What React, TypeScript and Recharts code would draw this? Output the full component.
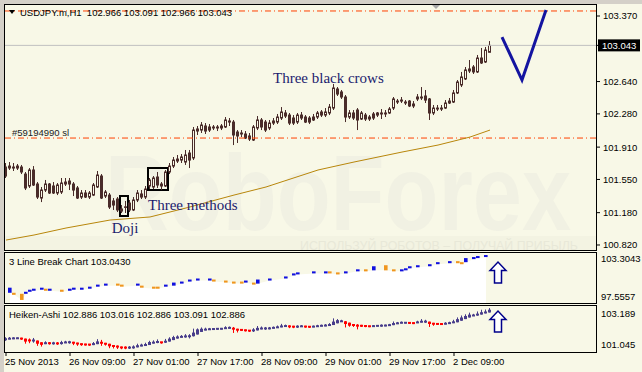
import React from 'react';
import {
  ComposedChart, Bar, Line, Area, XAxis, YAxis,
  ReferenceLine, ReferenceArea, ReferenceDot,
} from 'recharts';

const BG = '#F8F8E7';
const CANDLE = '#4A2C2A';
const LB_UP = '#1010E0';
const LB_DOWN = '#F0961E';
const HA_UP = '#483D8B';
const HA_DOWN = '#FF0000';
const UI_FONT = "'Liberation Sans', Arial, sans-serif";
const SERIF = "'Liberation Serif', 'Times New Roman', serif";
const SLOTS = 148;

// ---------- main candles (USDJPY.m, H1) ----------
const open = [
  101.688,101.677,101.688,101.699,101.688,101.610,101.477,101.655,101.499,101.343,
  101.432,101.499,101.477,101.399,101.410,101.499,101.532,101.499,101.455,101.354,
  101.399,101.354,101.376,101.466,101.588,101.365,101.376,101.310,101.332,101.221,
  101.243,101.287,101.210,101.321,101.388,101.354,101.477,101.466,101.577,101.499,
  101.477,101.633,101.699,101.755,101.766,101.744,101.844,101.789,102.089,102.100,
  102.145,102.134,102.123,102.134,102.123,102.134,102.201,102.189,102.078,102.056,
  102.056,102.034,101.989,102.123,102.212,102.189,102.123,102.178,102.189,102.234,
  102.290,102.267,102.234,102.189,102.267,102.245,102.234,102.245,102.245,102.301,
  102.267,102.290,102.345,102.557,102.524,102.468,102.245,102.290,102.323,102.223,
  102.267,102.245,102.279,102.290,102.279,102.279,102.290,102.345,102.423,102.434,
  102.412,102.423,102.390,102.446,102.457,102.479,102.446,102.290,102.334,102.345,
  102.345,102.401,102.412,102.513,102.602,102.669,102.758,102.802,102.747,102.902,
  102.858,102.966,
];
const high = [
  101.733,101.744,101.733,101.722,101.711,101.633,101.677,101.699,101.521,101.466,
  101.544,101.510,101.521,101.510,101.566,101.566,101.566,101.521,101.477,101.432,
  101.432,101.421,101.510,101.644,101.610,101.432,101.399,101.343,101.354,101.265,
  101.310,101.321,101.354,101.432,101.432,101.477,101.566,101.588,101.633,101.521,
  101.655,101.733,101.800,101.822,101.833,101.878,101.878,102.134,102.145,102.189,
  102.178,102.167,102.156,102.156,102.167,102.245,102.234,102.212,102.100,102.100,
  102.089,102.067,102.156,102.256,102.234,102.212,102.212,102.234,102.279,102.356,
  102.323,102.290,102.267,102.290,102.301,102.267,102.256,102.279,102.312,102.323,
  102.345,102.390,102.613,102.579,102.546,102.490,102.323,102.323,102.345,102.312,
  102.290,102.267,102.301,102.301,102.334,102.323,102.356,102.468,102.446,102.468,
  102.434,102.434,102.423,102.501,102.579,102.546,102.457,102.379,102.379,102.379,
  102.434,102.457,102.546,102.657,102.747,102.802,102.880,102.824,102.936,103.014,
  103.025,103.091,
];
const low = [
  101.566,101.655,101.644,101.655,101.610,101.432,101.455,101.477,101.332,101.298,
  101.410,101.388,101.388,101.376,101.388,101.477,101.432,101.365,101.332,101.332,
  101.343,101.332,101.365,101.455,101.332,101.343,101.221,101.210,101.187,101.176,
  101.176,101.187,101.198,101.298,101.332,101.332,101.443,101.443,101.455,101.432,
  101.466,101.610,101.677,101.733,101.733,101.711,101.677,101.766,102.045,102.067,
  102.056,102.078,102.100,102.089,102.100,102.123,102.145,101.933,101.956,102.022,
  102.000,101.978,101.978,102.100,102.100,102.078,102.100,102.156,102.167,102.212,
  102.234,102.156,102.156,102.167,102.212,102.178,102.167,102.201,102.223,102.245,
  102.245,102.267,102.323,102.479,102.446,102.189,102.223,102.212,102.100,102.212,
  102.201,102.201,102.212,102.245,102.223,102.245,102.279,102.323,102.390,102.401,
  102.379,102.356,102.345,102.423,102.434,102.401,102.212,102.267,102.312,102.312,
  102.334,102.390,102.401,102.501,102.579,102.657,102.735,102.724,102.735,102.836,
  102.847,102.966,
];
const close = [
  101.588,101.699,101.677,101.677,101.633,101.455,101.655,101.488,101.354,101.432,
  101.499,101.399,101.399,101.488,101.510,101.521,101.499,101.432,101.343,101.399,
  101.354,101.399,101.488,101.599,101.343,101.410,101.243,101.265,101.210,101.198,
  101.245,101.210,101.321,101.399,101.354,101.443,101.544,101.566,101.488,101.477,
  101.633,101.699,101.766,101.777,101.800,101.822,101.766,102.100,102.112,102.156,
  102.089,102.100,102.134,102.123,102.145,102.212,102.189,102.045,102.034,102.067,
  102.011,102.000,102.134,102.212,102.134,102.100,102.178,102.201,102.245,102.301,
  102.256,102.178,102.178,102.267,102.234,102.189,102.189,102.212,102.290,102.267,
  102.301,102.356,102.568,102.501,102.468,102.245,102.290,102.234,102.212,102.290,
  102.223,102.223,102.234,102.267,102.290,102.290,102.334,102.446,102.412,102.423,
  102.401,102.368,102.368,102.468,102.468,102.434,102.290,102.345,102.345,102.334,
  102.401,102.423,102.513,102.635,102.691,102.769,102.780,102.747,102.902,102.847,
  102.991,103.043,
];

// moving average (sparse read points)
const maIdx = [0, 7, 15, 26, 36, 45, 57, 65, 78, 87, 99, 108, 116, 121];
const maVal = [100.875,100.931,101.009,101.098,101.132,101.232,101.376,101.466,101.655,101.744,101.855,101.933,102.022,102.100];

// hand-drawn forecast "V"
const vIdx = [124, 129, 135];
const vVal = [103.136, 102.657, 103.437];

// levels
const currentPrice = 103.043;
const tpLevel = 103.426;
const slLevel = 102.011;
const priceTicks = [103.370, 103.043, 102.640, 102.280, 101.910, 101.550, 101.180, 100.820];

// ---------- Heiken-Ashi ----------
const haOpen = [
  101.64,101.64,101.67,101.68,101.68,101.67,101.60,101.58,101.58,101.50,
  101.44,101.46,101.45,101.45,101.45,101.46,101.49,101.50,101.48,101.44,
  101.41,101.40,101.39,101.41,101.48,101.47,101.43,101.37,101.325,101.30,
  101.26,101.25,101.25,101.26,101.31,101.34,101.37,101.44,101.48,101.51,
  101.49,101.53,101.60,101.67,101.72,101.75,101.77,101.78,101.86,101.98,
  102.055,102.09,102.10,102.12,102.12,102.13,102.15,102.17,102.13,102.09,
  102.075,102.06,102.04,102.05,102.11,102.14,102.14,102.15,102.17,102.195,
  102.235,102.255,102.24,102.224,102.23,102.24,102.23,102.22,102.227,102.247,
  102.265,102.277,102.302,102.382,102.456,102.476,102.412,102.341,102.303,102.274,
  102.266,102.256,102.245,102.251,102.263,102.272,102.278,102.296,102.346,102.382,
  102.407,102.407,102.401,102.391,102.425,102.454,102.460,102.405,102.363,102.353,
  102.348,102.363,102.390,102.429,102.502,102.578,102.652,102.720,102.746,102.789,
  102.844,102.886,
];
const haClose = [
  101.64,101.69,101.69,101.69,101.66,101.53,101.57,101.58,101.43,101.38,
  101.47,101.45,101.45,101.44,101.47,101.52,101.51,101.455,101.40,101.38,
  101.38,101.38,101.435,101.54,101.47,101.39,101.31,101.28,101.27,101.215,
  101.24,101.25,101.27,101.36,101.38,101.40,101.51,101.52,101.54,101.48,
  101.56,101.67,101.74,101.77,101.78,101.79,101.79,101.95,102.10,102.13,
  102.12,102.12,102.13,102.13,102.134,102.18,102.19,102.095,102.04,102.06,
  102.04,102.02,102.065,102.17,102.17,102.145,102.15,102.19,102.22,102.275,
  102.275,102.223,102.21,102.23,102.254,102.22,102.212,102.234,102.267,102.284,
  102.29,102.326,102.462,102.529,102.496,102.348,102.270,102.265,102.245,102.259,
  102.245,102.234,102.256,102.276,102.281,102.284,102.315,102.395,102.418,102.432,
  102.407,102.395,102.381,102.459,102.485,102.465,102.351,102.320,102.343,102.343,
  102.379,102.418,102.468,102.576,102.654,102.724,102.788,102.774,102.830,102.899,
  102.930,103.016,
];

// ---------- 3 Line Break ----------
const lbIdx = [
  1,2,4,5,6,7,9,10,11,14,
  16,17,19,21,23,25,28,29,33,34,
  37,38,40,42,44,46,48,51,52,55,
  57,59,60,62,63,66,70,72,73,77,
  80,81,83,85,88,90,92,95,97,99,
  100,101,103,106,108,111,113,114,115,117,
  118,120,
];
const lbHigh = [
  99.352,98.754,98.634,98.873,99.113,99.232,99.352,99.232,99.232,99.113,
  99.232,99.352,99.352,99.472,99.711,99.831,99.831,99.711,99.831,99.592,
  99.472,99.472,99.711,99.951,100.071,100.310,100.430,100.430,100.310,100.190,
  100.071,100.071,100.190,99.951,100.310,100.430,100.669,101.028,101.148,101.268,
  101.268,101.268,101.148,101.268,101.508,101.508,101.867,101.987,101.508,101.508,
  101.627,101.867,101.987,102.107,102.346,102.466,102.466,102.346,102.825,102.945,
  103.065,103.184,
];
const lbLow = [
  98.754,98.514,97.915,98.634,98.873,98.993,99.113,98.993,98.993,98.873,
  98.993,99.113,99.113,99.232,99.472,99.592,99.592,99.472,99.592,99.352,
  99.232,99.232,99.472,99.592,99.831,100.071,100.190,100.190,100.071,99.951,
  99.831,99.831,99.951,99.711,99.831,100.190,100.430,100.789,100.909,101.028,
  101.028,101.028,100.909,101.028,101.268,101.268,101.388,101.388,101.268,101.268,
  101.388,101.627,101.747,101.867,102.107,102.226,102.226,102.107,102.346,102.705,
  102.825,102.945,
];
const lbDir = [
  'up','down','down','up','up','up','up','down','up','down',
  'up','up','up','up','up','up','down','down','up','down',
  'down','down','up','up','up','up','up','up','down','down',
  'down','down','up','down','up','up','up','up','up','up',
  'up','down','down','up','up','down','up','down','down','up',
  'up','up','up','up','up','up','down','down','up','up',
  'up','up',
];

// ---------- time axis ----------
const timeTickIdx = [0, 16, 32, 48, 64, 80, 96, 112];
const timeTickLabels = ['25 Nov 2013', '26 Nov 09:00', '27 Nov 01:00', '27 Nov 17:00', '28 Nov 09:00', '29 Nov 01:00', '29 Nov 17:00', '2 Dec 09:00'];

// ---------- build table ----------
const rows: any[] = Array.from({ length: SLOTS }, (_, i) => {
  const r: any = { i };
  if (i < open.length) {
    r.open = open[i]; r.high = high[i]; r.low = low[i]; r.close = close[i];
    r.haOpen = haOpen[i]; r.haClose = haClose[i];
  }
  return r;
});
maIdx.forEach((k, j) => { rows[k].ma = maVal[j]; });
vIdx.forEach((k, j) => { rows[k].v = vVal[j]; });
lbIdx.forEach((k, j) => { rows[k].lbHigh = lbHigh[j]; rows[k].lbLow = lbLow[j]; rows[k].lbDir = lbDir[j]; });

// ---------- shapes ----------
const Candle = (p: any) => {
  const { x, y, width, height, payload } = p;
  if (!payload || payload.open == null) return <g />;
  const top = Math.min(y, y + height);
  const bot = Math.max(y, y + height);
  const span = payload.high - payload.low;
  const py = (v: number) => (span > 0 ? top + ((payload.high - v) / span) * (bot - top) : top);
  const c = Math.round(x + width / 2) - 0.5;
  const yo = py(payload.open);
  const yc = py(payload.close);
  const bt = Math.min(yo, yc);
  const bb = Math.max(yo, yc);
  const bull = payload.close > payload.open;
  return (
    <g>
      <line x1={c} x2={c} y1={top} y2={bot} stroke={CANDLE} strokeWidth={1} />
      <rect x={c - 1} y={bt} width={2} height={Math.max(bb - bt, 0.6)} fill={bull ? BG : CANDLE} stroke={CANDLE} strokeWidth={1} />
    </g>
  );
};

const Brick = (p: any) => {
  const { x, y, width, height, payload } = p;
  if (!payload || payload.lbHigh == null) return <g />;
  const top = Math.min(y, y + height);
  const h = Math.max(Math.abs(height), 2);
  return <rect x={x} y={top} width={width} height={h} fill={payload.lbDir === 'up' ? LB_UP : LB_DOWN} />;
};

const HaCandle = (p: any) => {
  const { x, y, width, height, payload } = p;
  if (!payload || payload.haOpen == null) return <g />;
  const top = Math.min(y, y + height);
  const bot = Math.max(y, y + height);
  const hi = Math.max(payload.high, payload.haOpen, payload.haClose);
  const lo = Math.min(payload.low, payload.haOpen, payload.haClose);
  const span = hi - lo;
  const py = (v: number) => (span > 0 ? top + ((hi - v) / span) * (bot - top) : top);
  const c = Math.round(x + width / 2) - 0.5;
  const yo = py(payload.haOpen);
  const yc = py(payload.haClose);
  let bt = Math.min(yo, yc);
  let bb = Math.max(yo, yc);
  if (bb - bt < 2) { const m = (bt + bb) / 2; bt = m - 1; bb = m + 1; }
  const color = payload.haClose >= payload.haOpen ? HA_UP : HA_DOWN;
  return (
    <g>
      <line x1={c} x2={c} y1={top} y2={bot} stroke={color} strokeWidth={1} />
      <rect x={c - 1.5} y={bt} width={3} height={bb - bt} fill={color} />
    </g>
  );
};

const UpArrow = (p: any) => {
  const { cx, cy } = p;
  const d = `M${cx - 8},${cy - 2} L${cx},${cy - 10.5} L${cx + 8},${cy - 2} L${cx + 3.5},${cy - 2} L${cx + 3.5},${cy + 10.5} L${cx - 3.5},${cy + 10.5} L${cx - 3.5},${cy - 2} Z`;
  return <path d={d} fill="#FFFFFF" stroke="#00008B" strokeWidth={1.5} />;
};

const annot = (text: string, anchor: 'start' | 'middle', dx: number) => (p: any) => (
  <text x={p.cx + dx} y={p.cy} dy={5} textAnchor={anchor} fontFamily={SERIF} fontSize={15} fill="#1C1C6E">{text}</text>
);

const PriceTick = (p: any) => {
  const { x, y, payload } = p;
  const v = payload.value;
  if (Math.abs(v - currentPrice) < 1e-9) {
    return (
      <g>
        <rect x={x - 4} y={y - 6} width={42} height={12} fill="#000" />
        <text x={x} y={y} dy={3.4} fill="#FFF" fontSize={9.5} fontFamily={UI_FONT}>{v.toFixed(3)}</text>
      </g>
    );
  }
  return <text x={x + 1} y={y} dy={3.4} fill="#000" fontSize={9.5} fontFamily={UI_FONT}>{v.toFixed(3)}</text>;
};

const edgeTick = (topVal: number, topDy: number, botDy: number, digits: number) => (p: any) => {
  const { x, y, payload } = p;
  const v = payload.value;
  const dy = Math.abs(v - topVal) < 1e-9 ? topDy : botDy;
  return <text x={x - 1} y={y} dy={dy + 3.4} fill="#000" fontSize={9.5} fontFamily={UI_FONT}>{v.toFixed(digits)}</text>;
};

const TimeTick = (p: any) => {
  const { x, y, payload } = p;
  const k = timeTickIdx.indexOf(payload.value);
  return <text x={x - 1} y={y} dy={6.5} fill="#000" fontSize={9.5} fontFamily={UI_FONT} style={{ whiteSpace: 'pre' }}>{k >= 0 ? timeTickLabels[k] : ''}</text>;
};

const SlLabel = (p: any) => {
  const vb = p.viewBox || { x: 4, y: 138 };
  return <text x={vb.x + 8} y={vb.y - 2.5} fill="#222" fontSize={9.5} fontFamily={UI_FONT}>#59194990 sl</text>;
};

export default function App() {
  return (
    <div style={{ position: 'absolute', left: 0, top: 0, width: 642, height: 372, background: BG, overflow: 'hidden' }}>
      {/* background: window chrome + watermark */}
      <svg width={642} height={372} style={{ position: 'absolute', left: 0, top: 0 }}>
        <rect x={0} y={0} width={642} height={4} fill="#D4D0C8" />
        <rect x={0} y={0} width={4} height={372} fill="#D4D0C8" />
        <rect x={5} y={236} width={591} height={14} fill="#F3F3E2" />
        <text x={105} y={230} fontSize={108} fontWeight="bold" fontFamily={UI_FONT} fill="#F1F1E3" textLength={466} lengthAdjust="spacingAndGlyphs">RoboForex</text>
        <text x={300} y={250} fontSize={12} fontFamily={UI_FONT} fill="#E8E8D8" textLength={278} lengthAdjust="spacingAndGlyphs">ИСПОЛЬЗУЙ РОБОТОВ – ПОЛУЧАЙ ПРИБЫЛЬ</text>
      </svg>

      {/* main price panel */}
      <div style={{ position: 'absolute', left: 0, top: 0 }}>
        <ComposedChart width={642} height={250} data={rows} margin={{ top: 5, right: 0, bottom: 0, left: 4 }} barCategoryGap={0} barGap={0}>
          <XAxis dataKey="i" hide />
          <YAxis orientation="right" width={46} domain={[100.7643, 103.4925]} allowDataOverflow ticks={priceTicks} interval={0}
            axisLine={false} tickLine={{ stroke: '#000' }} tickSize={4} tickMargin={2} tick={(p: any) => <PriceTick {...p} />} />
          <ReferenceLine y={currentPrice} stroke="#C0C0C0" strokeWidth={1} />
          <ReferenceLine y={tpLevel} stroke="#FF4000" strokeWidth={1} strokeDasharray="6 3 1 3" />
          <ReferenceLine y={slLevel} stroke="#FF4000" strokeWidth={1} strokeDasharray="6 3 1 3" label={(p: any) => <SlLabel {...p} />} />
          <Line dataKey="ma" connectNulls stroke="#B8860B" strokeWidth={1} dot={false} activeDot={false} isAnimationActive={false} />
          <Bar dataKey={(d: any) => (d.open == null ? null : [d.low, d.high])} barSize={4} shape={(p: any) => <Candle {...p} />} isAnimationActive={false} />
          <ReferenceArea x1={29} x2={30} y1={101.143} y2={101.365} fill="none" stroke="#000" strokeWidth={2} />
          <ReferenceArea x1={36} x2={40} y1={101.432} y2={101.677} fill="none" stroke="#000" strokeWidth={2} />
          <Line dataKey="v" connectNulls stroke="#1414A0" strokeWidth={3} dot={false} activeDot={false} isAnimationActive={false} />
          <ReferenceDot x={30} y={101.009} r={1} shape={annot('Doji', 'middle', -1)} />
          <ReferenceDot x={36} y={101.2654} r={1} shape={annot('Three methods', 'start', -2)} />
          <ReferenceDot x={67} y={102.6796} r={1} shape={annot('Three black crows', 'start', -1)} />
        </ComposedChart>
      </div>

      {/* 3 Line Break panel */}
      <div style={{ position: 'absolute', left: 0, top: 252 }}>
        <ComposedChart width={642} height={51} data={rows} margin={{ top: 2, right: 0, bottom: 0, left: 4 }} barCategoryGap={0} barGap={0}>
          <XAxis dataKey="i" hide />
          <YAxis orientation="right" width={46} domain={[97.5557, 103.3043]} allowDataOverflow ticks={[103.3043, 97.5557]} interval={0}
            axisLine={false} tickLine={false} tickSize={4} tickMargin={2} tick={edgeTick(103.3043, 5, -6, 4)} />
          <Area dataKey="lbLow" type="linear" connectNulls stroke="none" fill="#FFFFFF" fillOpacity={1} baseValue="dataMin" dot={false} activeDot={false} isAnimationActive={false} />
          <Bar dataKey={(d: any) => (d.lbHigh == null ? null : [d.lbLow, d.lbHigh])} barSize={4} shape={(p: any) => <Brick {...p} />} isAnimationActive={false} />
          <ReferenceDot x={123} y={101.134} r={1} shape={(p: any) => <UpArrow {...p} />} />
        </ComposedChart>
      </div>

      {/* Heiken-Ashi panel + time axis */}
      <div style={{ position: 'absolute', left: 0, top: 305 }}>
        <ComposedChart width={642} height={67} data={rows} margin={{ top: 1, right: 0, bottom: 0, left: 4 }} barCategoryGap={0} barGap={0}>
          <XAxis dataKey="i" ticks={timeTickIdx} interval={0} height={20} axisLine={false} tickLine={{ stroke: '#000' }} tickSize={4} tickMargin={2} tick={(p: any) => <TimeTick {...p} />} />
          <YAxis orientation="right" width={46} domain={[101.045, 103.189]} allowDataOverflow ticks={[103.189, 101.045]} interval={0}
            axisLine={false} tickLine={false} tickSize={4} tickMargin={2} tick={edgeTick(103.189, 8, -7, 3)} />
          <Bar dataKey={(d: any) => (d.haOpen == null ? null : [Math.min(d.low, d.haOpen, d.haClose), Math.max(d.high, d.haOpen, d.haClose)])}
            barSize={4} shape={(p: any) => <HaCandle {...p} />} isAnimationActive={false} />
          <ReferenceDot x={123} y={102.467} r={1} shape={(p: any) => <UpArrow {...p} />} />
        </ComposedChart>
      </div>

      {/* overlay: frames and captions */}
      <svg width={642} height={372} style={{ position: 'absolute', left: 0, top: 0, pointerEvents: 'none' }}>
        <rect x={4.5} y={4.5} width={592} height={246} fill="none" stroke="#000" strokeWidth={1} />
        <rect x={4.5} y={252.5} width={592} height={51} fill="none" stroke="#000" strokeWidth={1} />
        <rect x={4.5} y={305.5} width={592} height={47} fill="none" stroke="#000" strokeWidth={1} />
        <polygon points="432,5 440,5 436,9" fill="#A8A8A8" />
        <polygon points="9,10 15,10 12,14" fill="#000" />
        <text x={20} y={15.5} fontSize={9.5} fontFamily={UI_FONT} fill="#000" style={{ whiteSpace: 'pre' }} xmlSpace="preserve">USDJPY.m,H1  102.966 103.091 102.966 103.043</text>
        <text x={9} y={265} fontSize={9.5} fontFamily={UI_FONT} fill="#000">3 Line Break Chart 103.0430</text>
        <text x={9} y={318} fontSize={9.5} fontFamily={UI_FONT} fill="#000">Heiken-Ashi 102.886 103.016 102.886 103.091 102.886</text>
      </svg>
    </div>
  );
}
